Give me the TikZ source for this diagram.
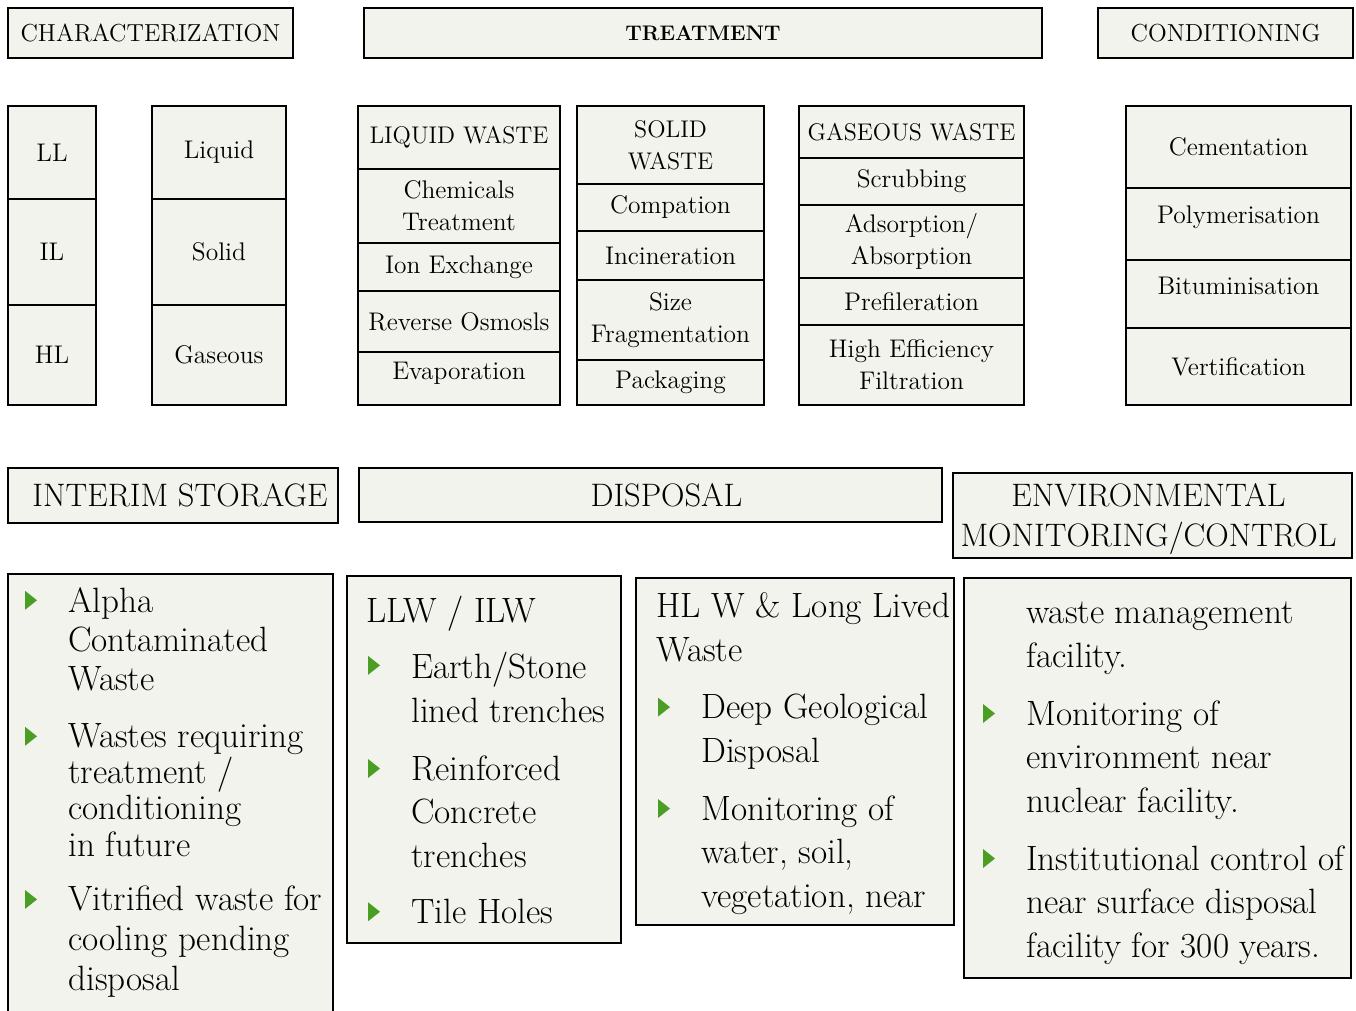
\documentclass[tikz,border=0pt]{standalone}
\usetikzlibrary{calc}
\definecolor{boxfill}{RGB}{241,243,236}
\definecolor{bulletgreen}{RGB}{74,158,36}
% one framed cell with its text in the middle
\newcommand\cell[7][]{%
\draw[box] (#3,#4) rectangle (#5,#6);
\node[lbl,#1] (#2) at ($(#3,#4)!0.5!(#5,#6)$) {#7};
}
% green arrow bullet in front of an item
\newcommand\bullit[1]{%
\fill[bulletgreen] ($(#1.north west)+(-43,4)$) -- ++(12,9.5) -- ++(-12,9.5) -- cycle;
}

\begin{document}
\begin{tikzpicture}[x=0.02cm,y=-0.02cm,
  box/.style={draw=black, line width=1.4pt, fill=boxfill},
  lbl/.style={align=center, inner sep=0pt, font=\fontsize{14.5}{18.2}\selectfont},
  capslbl/.style={font=\fontsize{13.7}{18.2}\selectfont},
  head/.style={font=\fontsize{14}{18}\selectfont},
  bighead/.style={font=\fontsize{18.5}{22.8}\selectfont},
  item/.style={anchor=base west, align=left, inner sep=0pt, font=\fontsize{20}{24.75}\selectfont}]
	\useasboundingbox (0,0) rectangle (1356,1011);

	%% top row headings
	\cell[head]{charh}{8}{8}{293}{58}{CHARACTERIZATION}
	\cell[font=\fontsize{12}{18}\selectfont\bfseries]{treath}{364}{8}{1042}{58}{TREATMENT}
	\cell[head]{condh}{1098}{8}{1353}{58}{CONDITIONING}

	%% characterization
	\cell{ll}{8}{106}{96}{199}{LL}
	\cell{il}{8}{199}{96}{305}{IL}
	\cell{hl}{8}{305}{96}{405}{HL}
	\cell{liq}{152}{106}{286}{199}{Liquid}
	\cell{sol}{152}{199}{286}{305}{Solid}
	\cell{gas}{152}{305}{286}{405}{Gaseous}

	%% treatment
	\cell[capslbl]{lw}{358}{106}{560}{169}{LIQUID WASTE}
	\cell{chem}{358}{169}{560}{243}{Chemicals\\Treatment}
	\cell{ion}{358}{243}{560}{291}{Ion Exchange}
	\cell{ro}{358}{291}{560}{352}{Reverse Osmosls}
	\cell[yshift=0.1cm]{evap}{358}{352}{560}{405}{Evaporation}

	\cell[capslbl]{sw}{577}{106}{764}{184}{SOLID\\WASTE}
	\cell{comp}{577}{184}{764}{231}{Compation}
	\cell{inc}{577}{231}{764}{280}{Incineration}
	\cell{frag}{577}{280}{764}{360}{Size\\Fragmentation}
	\cell{pack}{577}{360}{764}{405}{Packaging}

	\cell[capslbl]{gw}{799}{106}{1024}{158}{GASEOUS WASTE}
	\cell{scrub}{799}{158}{1024}{205}{Scrubbing}
	\cell{ads}{799}{205}{1024}{278}{Adsorption/\\Absorption}
	\cell{pref}{799}{278}{1024}{325}{Prefileration}
	\cell{hepa}{799}{325}{1024}{405}{High Efficiency\\Filtration}

	%% conditioning
	\cell{cem}{1126}{106}{1351}{188}{Cementation}
	\cell[yshift=0.13cm]{poly}{1126}{188}{1351}{260}{Polymerisation}
	\cell[yshift=0.17cm]{bit}{1126}{260}{1351}{328}{Bituminisation}
	\cell{vit}{1126}{328}{1351}{405}{Vertification}

	%% second row headings
	\cell[bighead,xshift=0.14cm]{storh}{8}{468}{338}{523}{INTERIM STORAGE}
	\cell[bighead,xshift=0.32cm]{disph}{359}{468}{942}{522}{DISPOSAL}
	\cell[bighead,xshift=-0.08cm,yshift=-0.08cm]{envh}{953}{473}{1352}{558}{ENVIRONMENTAL\\MONITORING/CONTROL}

	%% interim storage
	\draw[box] (8,574) rectangle (333,1030);
	\node[item, font=\fontsize{20}{22.2}\selectfont] (alpha) at (68,690) {Alpha\\Contaminated\\Waste};
	\bullit{alpha}
	\node[item, font=\fontsize{20}{20.65}\selectfont] (future) at (68,856) {Wastes requiring\\treatment /\\conditioning\\in future};
	\bullit{future}
	\node[item, font=\fontsize{20}{22.5}\selectfont] (vitr) at (68,990) {Vitrified waste for\\cooling pending\\disposal};
	\bullit{vitr}

	%% disposal, LLW / ILW
	\draw[box] (347,576) rectangle (621,943);
	\node[item] (llw) at (366,622) {LLW / ILW};
	\node[item] (earth) at (411,722) {Earth/Stone\\lined trenches};
	\bullit{earth}
	\node[item] (rcc) at (411,867) {Reinforced\\Concrete\\trenches};
	\bullit{rcc}
	\node[item] (tile) at (411,923) {Tile Holes};
	\bullit{tile}

	%% disposal, HLW
	\draw[box] (636,578) rectangle (954,925);
	\node[item] (hlw) at (656,661) {HL W \& Long Lived\\Waste};
	\node[item] (dgr) at (701,762) {Deep Geological\\Disposal};
	\bullit{dgr}
	\node[item] (mon) at (701,907) {Monitoring of\\water, soil,\\vegetation, near};
	\bullit{mon}

	%% environmental monitoring
	\draw[box] (964,578) rectangle (1351,978);
	\node[item] (wmf) at (1026,667) {waste management\\facility.};
	\node[item] (envmon) at (1026,812) {Monitoring of\\environment near\\nuclear facility.};
	\bullit{envmon}
	\node[item] (inst) at (1026,957) {Institutional control of\\near surface disposal\\facility for 300 years.};
	\bullit{inst}
\end{tikzpicture}
\end{document}
